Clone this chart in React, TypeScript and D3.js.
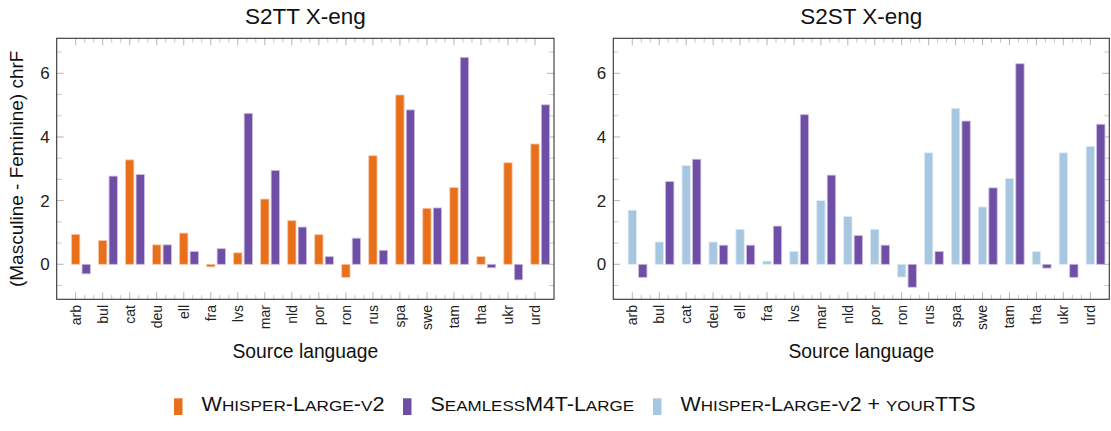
import { useMemo } from "react";
import * as d3 from "d3";

const WIDTH = 1111;
const HEIGHT = 431;
const FONT = "'Liberation Sans', Arial, sans-serif";

const categories = ["arb", "bul", "cat", "deu", "ell", "fra", "lvs", "mar", "nld", "por", "ron", "rus", "spa", "swe", "tam", "tha", "ukr", "urd"];

// S2TT panel
const s2ttWhisper = [0.94, 0.75, 3.28, 0.61, 0.98, -0.08, 0.36, 2.05, 1.37, 0.93, -0.41, 3.41, 5.32, 1.76, 2.41, 0.24, 3.19, 3.78];
const s2ttSeamless = [-0.3, 2.77, 2.82, 0.61, 0.4, 0.49, 4.74, 2.95, 1.17, 0.24, 0.82, 0.44, 4.85, 1.77, 6.5, -0.11, -0.49, 5.01];

// S2ST panel
const s2stWhisperTts = [1.7, 0.7, 3.1, 0.7, 1.1, 0.1, 0.4, 2.0, 1.5, 1.1, -0.4, 3.5, 4.9, 1.8, 2.7, 0.4, 3.5, 3.7];
const s2stSeamless = [-0.41, 2.6, 3.3, 0.6, 0.6, 1.2, 4.7, 2.8, 0.9, 0.6, -0.72, 0.4, 4.5, 2.4, 6.3, -0.12, -0.41, 4.4];

const yMajorTicks = [0, 2, 4, 6];

const COLORS = {
  whisper: { fill: "#E8701A", stroke: "#F6C9A8" },
  seamless: { fill: "#6F4EA5", stroke: "#CBBCE0" },
  whisperTts: { fill: "#A7C6DF", stroke: "#DCEAF5" },
};

const legendItems = [
  { label: "Whisper-Large-v2", color: COLORS.whisper.fill, x: 174, len: 183 },
  { label: "SeamlessM4T-Large", color: COLORS.seamless.fill, x: 403, len: 203.5 },
  { label: "Whisper-Large-v2 + yourTTS", color: COLORS.whisperTts.fill, x: 653, len: 295 },
];

const TOP = 38.3;
const BOTTOM = 299.3;

type Series = { values: number[]; fill: string; stroke: string };

type PanelProps = {
  left: number;
  right: number;
  title: string;
  first: Series;
  second: Series;
  yLabel?: string;
};

const Panel = ({ left, right, title, first, second, yLabel }: PanelProps) => {
  const xScale = useMemo(
    () => d3.scalePoint<string>().domain(categories).range([left + 19, right - 19]),
    [left, right]
  );
  const yScale = useMemo(() => d3.scaleLinear().domain([-1.1, 7.1]).range([BOTTOM, TOP]), []);

  const step = xScale.step();
  const barW = 8.3;
  const offset = 10.5;
  const cx = (left + right) / 2;

  // minor ticks at 1/3 and 2/3 between categories
  const xMinor: number[] = [];
  categories.slice(0, -1).forEach((c) => {
    const x = xScale(c)!;
    xMinor.push(x + step / 3, x + (2 * step) / 3);
  });
  const yMinor = d3.range(-1, 11).filter((k) => k % 3 !== 0).map((k) => (k * 2) / 3);

  const bars = (s: Series, shift: number, key: string) =>
    s.values.map((v, i) => {
      const x = xScale(categories[i])! + shift - barW / 2;
      const y0 = yScale(0);
      const y1 = yScale(v);
      return (
        <rect
          key={key + i}
          x={x}
          y={Math.min(y0, y1)}
          width={barW}
          height={Math.abs(y1 - y0)}
          fill={s.fill}
          stroke={s.stroke}
          strokeWidth={0.8}
        />
      );
    });

  return (
    <g>
      {/* ticks */}
      {categories.map((c) => (
        <g key={"xt" + c} stroke="#b4b4b4" strokeWidth={1}>
          <line x1={xScale(c)} x2={xScale(c)} y1={TOP} y2={TOP + 7} />
          <line x1={xScale(c)} x2={xScale(c)} y1={BOTTOM} y2={BOTTOM - 7} />
        </g>
      ))}
      {xMinor.map((x, i) => (
        <g key={"xm" + i} stroke="#c8c8c8" strokeWidth={1}>
          <line x1={x} x2={x} y1={TOP} y2={TOP + 4.5} />
          <line x1={x} x2={x} y1={BOTTOM} y2={BOTTOM - 4.5} />
        </g>
      ))}
      {yMajorTicks.map((t) => (
        <g key={"yt" + t} stroke="#b4b4b4" strokeWidth={1}>
          <line x1={left} x2={left + 7} y1={yScale(t)} y2={yScale(t)} />
          <line x1={right} x2={right - 7} y1={yScale(t)} y2={yScale(t)} />
        </g>
      ))}
      {yMinor.map((t, i) => (
        <g key={"ym" + i} stroke="#c8c8c8" strokeWidth={1}>
          <line x1={left} x2={left + 5} y1={yScale(t)} y2={yScale(t)} />
          <line x1={right} x2={right - 5} y1={yScale(t)} y2={yScale(t)} />
        </g>
      ))}

      {bars(first, 0, "a")}
      {bars(second, offset, "b")}

      <rect x={left} y={TOP} width={right - left} height={BOTTOM - TOP} fill="none" stroke="#333" strokeWidth={1.1} />

      {/* tick labels */}
      {yMajorTicks.map((t) => (
        <text key={"yl" + t} x={left - 7} y={yScale(t)} dy="0.36em" textAnchor="end" fontSize={17} fill="#222">
          {t}
        </text>
      ))}
      {categories.map((c) => (
        <text
          key={"xl" + c}
          transform={`translate(${xScale(c)},305) rotate(-90)`}
          dy="0.35em"
          textAnchor="end"
          fontSize={14}
          fill="#222"
        >
          {c}
        </text>
      ))}

      <text x={cx} y={23.5} textAnchor="middle" fontSize={22.5} fill="#111">
        {title}
      </text>
      <text x={cx} y={358} textAnchor="middle" fontSize={19.3} fill="#111">
        Source language
      </text>
      {yLabel && (
        <text
          transform={`translate(16,${(TOP + BOTTOM) / 2}) rotate(-90)`}
          dy="0.35em"
          textAnchor="middle"
          fontSize={19}
          fill="#111"
        >
          {yLabel}
        </text>
      )}
    </g>
  );
};

// lowercase letters become smaller capitals, like \textsc
const smallCaps = (text: string, size: number, scSize: number) => {
  const runs: { s: string; small: boolean }[] = [];
  for (const ch of text) {
    const small = ch >= "a" && ch <= "z";
    const last = runs[runs.length - 1];
    if (last && last.small === small) last.s += small ? ch.toUpperCase() : ch;
    else runs.push({ s: small ? ch.toUpperCase() : ch, small });
  }
  return runs.map((r, i) => (
    <tspan key={i} fontSize={r.small ? scSize : size}>
      {r.s}
    </tspan>
  ));
};

export default function App() {
  return (
    <svg
      width={WIDTH}
      height={HEIGHT}
      style={{ position: "absolute", left: 0, top: 0, background: "#fff" }}
      fontFamily={FONT}
    >
      <Panel
        left={56.7}
        right={554}
        title="S2TT X-eng"
        first={{ values: s2ttWhisper, ...COLORS.whisper }}
        second={{ values: s2ttSeamless, ...COLORS.seamless }}
        yLabel="(Masculine - Feminine) chrF"
      />
      <Panel
        left={613.3}
        right={1109.3}
        title="S2ST X-eng"
        first={{ values: s2stWhisperTts, ...COLORS.whisperTts }}
        second={{ values: s2stSeamless, ...COLORS.seamless }}
      />

      {legendItems.map((d) => (
        <g key={d.label}>
          <rect x={d.x} y={398.3} width={8.5} height={16.7} fill={d.color} />
          <text
            x={d.x + 27.5}
            y={411}
            fontSize={19.5}
            fill="#111"
            textLength={d.len}
            lengthAdjust="spacingAndGlyphs"
          >
            {smallCaps(d.label, 19.5, 15.5)}
          </text>
        </g>
      ))}
    </svg>
  );
}
